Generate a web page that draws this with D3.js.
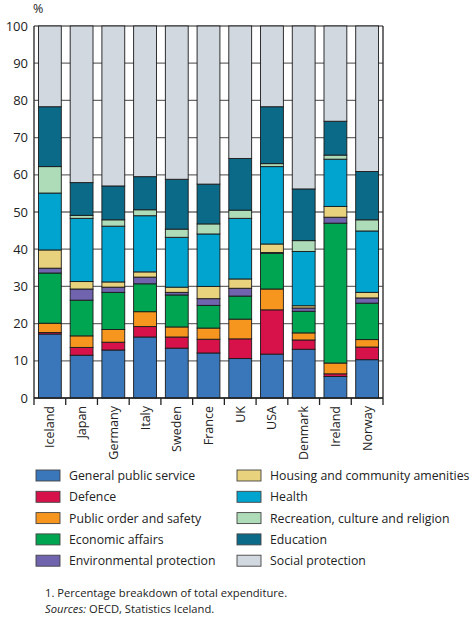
<!DOCTYPE html>
<html>
<head>
<meta charset="utf-8">
<script src="https://cdn.jsdelivr.net/npm/d3@7/dist/d3.min.js"></script>
<style>
  html, body { margin: 0; padding: 0; background: #fff; }
  svg { display: block; font-family: "Open Sans", sans-serif; }
</style>
</head>
<body>
<svg id="chart" width="473" height="623"></svg>
<script>
// Countries along the x axis
const countries = ["Iceland", "Japan", "Germany", "Italy", "Sweden", "France", "UK", "USA", "Denmark", "Ireland", "Norway"];

// Expenditure categories, bottom to top of each stack
const categories = [
  "General public service", "Defence", "Public order and safety", "Economic affairs",
  "Environmental protection", "Housing and community amenities", "Health",
  "Recreation, culture and religion", "Education", "Social protection"
];

// Share of total expenditure (%) per category, one value per country
const generalPublicService = [17.2, 11.5, 12.9, 16.4, 13.4, 12.1, 10.6, 11.8, 13.1, 5.8, 10.3];
const defence              = [0.4, 2.1, 2.1, 2.8, 3.0, 3.7, 5.3, 11.9, 2.5, 0.7, 3.4];
const publicOrder          = [2.5, 3.1, 3.4, 4.0, 2.7, 3.0, 5.3, 5.6, 1.9, 2.9, 2.0];
const economicAffairs      = [13.5, 9.6, 10.0, 7.5, 8.6, 6.1, 6.2, 9.6, 5.8, 37.6, 9.8];
const environmental        = [1.3, 3.0, 1.4, 1.8, 0.7, 1.8, 2.1, 0.2, 0.9, 1.6, 1.4];
const housing              = [4.9, 2.0, 1.4, 1.4, 1.4, 3.3, 2.5, 2.3, 0.6, 2.9, 1.5];
const health               = [15.3, 17.0, 15.0, 15.1, 13.4, 14.1, 16.3, 20.8, 14.6, 12.7, 16.5];
const recreation           = [7.1, 0.8, 1.7, 1.6, 2.2, 2.7, 2.2, 0.8, 2.9, 1.1, 3.0];
const education            = [16.1, 8.8, 9.1, 8.9, 13.4, 10.7, 13.9, 15.3, 13.9, 9.1, 13.0];
const socialProtection     = [21.7, 42.1, 43.0, 40.5, 41.2, 42.5, 35.6, 21.7, 43.8, 25.6, 39.1];

const seriesValues = [
  generalPublicService, defence, publicOrder, economicAffairs, environmental,
  housing, health, recreation, education, socialProtection
];

const colors = [
  "#3a77ba", "#d7124a", "#f6961f", "#00a551", "#6f64ad",
  "#e8d27d", "#00a4cf", "#aedcb9", "#0c6a89", "#d2d8df"
];

const yTicks = [0, 10, 20, 30, 40, 50, 60, 70, 80, 90, 100];

// Build one row per country for the stack layout
const rows = countries.map((c, i) => {
  const r = { country: c };
  categories.forEach((k, j) => { r[k] = seriesValues[j][i]; });
  return r;
});

const stack = d3.stack().keys(categories);
const layers = stack(rows);

const svg = d3.select("#chart");
const margin = { left: 34, right: 90, top: 26, bottom: 225 };
const W = 473, H = 623;
const x = d3.scaleBand().domain(countries).range([margin.left, W - margin.right]).paddingInner(0.28).paddingOuter(0.14);
const y = d3.scaleLinear().domain([0, 100]).range([H - margin.bottom, margin.top]);
const color = d3.scaleOrdinal().domain(categories).range(colors);

const x0 = margin.left, x1 = W - margin.right;

// Horizontal gridlines behind the bars
svg.append("g")
  .selectAll("line")
  .data(yTicks)
  .join("line")
  .attr("x1", x0).attr("x2", x1)
  .attr("y1", d => y(d)).attr("y2", d => y(d))
  .attr("stroke", "#6b6b6b")
  .attr("stroke-width", 1.3);

// Stacked bars
svg.append("g")
  .selectAll("g")
  .data(layers)
  .join("g")
  .attr("fill", d => color(d.key))
  .selectAll("rect")
  .data(d => d)
  .join("rect")
  .attr("x", d => x(d.data.country))
  .attr("width", x.bandwidth())
  .attr("y", d => y(d[1]))
  .attr("height", d => y(d[0]) - y(d[1]))
  .attr("stroke", "#1a1a1a")
  .attr("stroke-width", 0.9);

// Left y axis
const yAxis = d3.axisLeft(y).tickValues(yTicks).tickSize(0).tickPadding(6);
const gy = svg.append("g")
  .attr("transform", `translate(${x0},0)`)
  .call(yAxis);
gy.select(".domain").remove();
gy.selectAll("text").attr("font-size", 13).attr("fill", "#222").attr("font-family", "Open Sans");

// Axis frame lines: left, right, bottom
svg.append("line").attr("x1", x0).attr("x2", x0).attr("y1", y(100)).attr("y2", y(0) + 7)
  .attr("stroke", "#222").attr("stroke-width", 1.3);
svg.append("line").attr("x1", x1).attr("x2", x1).attr("y1", y(100)).attr("y2", y(0) + 7)
  .attr("stroke", "#222").attr("stroke-width", 1.3);
svg.append("line").attr("x1", x0).attr("x2", x1).attr("y1", y(0)).attr("y2", y(0))
  .attr("stroke", "#222").attr("stroke-width", 1.3);

// Category separators below the axis
const step = x.step();
const bounds = countries.map(c => x(c) - (step - x.bandwidth()) / 2).slice(1);
svg.append("g").selectAll("line").data(bounds).join("line")
  .attr("x1", d => d).attr("x2", d => d)
  .attr("y1", y(0)).attr("y2", y(0) + 7)
  .attr("stroke", "#222").attr("stroke-width", 1.3);

// Rotated country labels
svg.append("g").selectAll("text").data(countries).join("text")
  .attr("transform", d => `translate(${x(d) + x.bandwidth() / 2 + 4.5},${y(0) + 8}) rotate(-90)`)
  .attr("text-anchor", "end")
  .attr("font-size", 12.5)
  .attr("fill", "#222")
  .text(d => d);

// Unit label
svg.append("text").attr("x", 33).attr("y", 13).attr("font-size", 12.5).attr("fill", "#222").text("%");

// Legend in two columns of five
const legend = svg.append("g");
categories.forEach((k, i) => {
  const col = i < 5 ? 0 : 1;
  const row = i % 5;
  const lx = col === 0 ? 36 : 237;
  const ly = 470 + row * 21.3;
  legend.append("rect").attr("x", lx).attr("y", ly).attr("width", 24).attr("height", 11)
    .attr("fill", color(k)).attr("stroke", "#444").attr("stroke-width", 0.9);
  legend.append("text").attr("x", lx + 33).attr("y", ly + 10).attr("font-size", 12.3)
    .attr("fill", "#222").text(k);
});

// Footnotes
svg.append("text").attr("x", 45).attr("y", 597).attr("font-size", 11.2).attr("fill", "#222")
  .text("1. Percentage breakdown of total expenditure.");
const src = svg.append("text").attr("x", 45).attr("y", 613).attr("font-size", 11.2).attr("fill", "#222");
src.append("tspan").attr("font-style", "italic").text("Sources:");
src.append("tspan").text(" OECD, Statistics Iceland.");
</script>
</body>
</html>
